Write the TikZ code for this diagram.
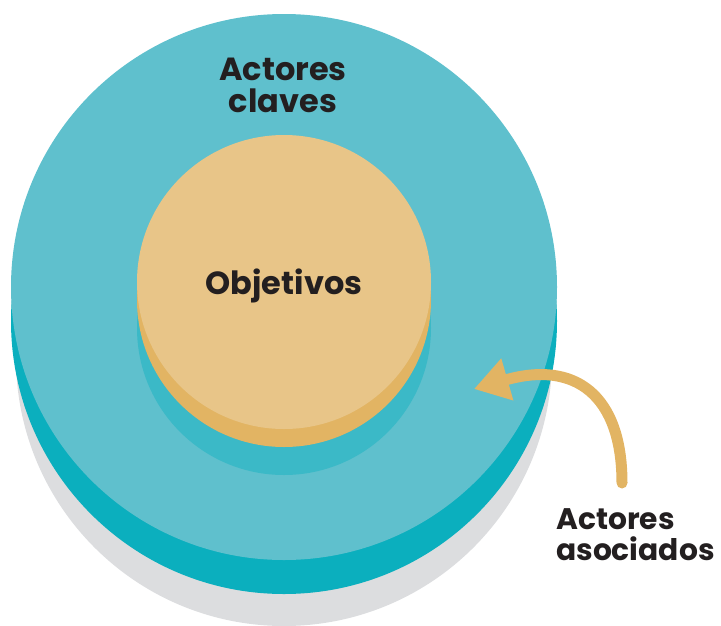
\documentclass[tikz,border=0pt]{standalone}
\usepackage{fontspec}
\setmainfont{Poppins}
\usetikzlibrary{arrows.meta}
\definecolor{tealLight}{HTML}{5FC0CD}
\definecolor{tealDark}{HTML}{0BAFBE}
\definecolor{tealMid}{HTML}{3BB9C7}
\definecolor{shadowGrey}{HTML}{DCDDDF}
\definecolor{sandLight}{HTML}{E8C588}
\definecolor{sandDark}{HTML}{E2B463}
\definecolor{inkText}{HTML}{231F20}
\tikzset{
  lbl/.style={inner sep=0.75pt, text=inkText, font=\fontsize{24}{24}\selectfont\bfseries},
  bendArrow/.style={draw=sandDark, line width=8.25pt, line cap=round,
    -{Triangle[length=26pt,width=31pt]}}
}
\begin{document}
\begin{tikzpicture}[x=0.75pt,y=0.75pt,yscale=-1,xscale=1]
        \useasboundingbox (0,0) rectangle (721,625);
        % outer disc and its shadows
        \fill [shadowGrey] (284,358) circle (268);
        \fill [tealDark] (284,321) circle (273);
        \fill [tealLight] (284,287) circle (273);
        % inner disc
        \fill [tealMid] (284,328) circle (147);
        \fill [sandDark] (284,300) circle (147);
        \fill [sandLight] (284,282) circle (147);

        \draw (283,85) node [lbl, align=center] (keyActors) {Actores\\claves};
        \draw (284,286) node [lbl] (goals) {Objetivos};
        \draw (555,535) node [lbl, anchor=west, align=left, font=\fontsize{22.3}{23}\selectfont\bfseries] (assocActors) {Actores\\asociados};

        \coordinate (arrowFoot) at (622,483);
        \coordinate (arrowTip) at (474,389);
        \draw [bendArrow] (arrowFoot) .. controls (622,395) and (575,360) .. (arrowTip);
\end{tikzpicture}
\end{document}
